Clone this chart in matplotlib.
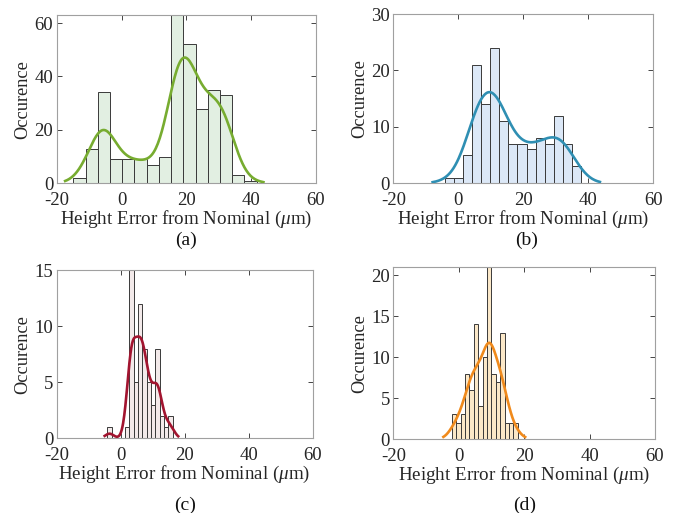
import numpy as np
import matplotlib
matplotlib.use("Agg")
import matplotlib.pyplot as plt

plt.rcParams['font.family'] = ['Liberation Serif', 'DejaVu Serif']
plt.rcParams['mathtext.fontset'] = 'custom'
plt.rcParams['mathtext.it'] = 'Liberation Serif:italic'
plt.rcParams['mathtext.rm'] = 'Liberation Serif'
plt.rcParams['axes.unicode_minus'] = False

# ---- data ----
panel_labels = ["(a)", "(b)", "(c)", "(d)"]
xticks = [-20, 0, 20, 40, 60]

a_start, a_width = -14.86, 3.77
a_counts = [2, 13, 34, 9, 9, 9, 7, 10, 63, 52, 28, 35, 33, 3, 1]

b_start, b_width = -4.2, 2.8
b_counts = [1, 1, 5, 21, 14, 24, 11, 7, 7, 6, 8, 7, 12, 7, 3]

c_start, c_width = -4.17, 1.365
c_counts = [1, 0, 0, 0, 1, 15, 5, 12, 8, 5, 3, 8, 2, 1, 2]

d_start, d_width = -2.15, 1.346
d_counts = [3, 2, 3, 8, 6, 14, 4, 10, 21, 8, 7, 13, 2, 2, 2]

yticks = [[0, 20, 40, 60], [0, 10, 20, 30], [0, 5, 10, 15], [0, 5, 10, 15, 20]]
ylims = [63, 30, 15, 21]
curve_ranges = [(-17.4, 43.8), (-7.9, 43.6), (-5.0, 18.0), (-4.7, 20.3)]
bw_factor = [0.9, 0.95, 0.72, 0.92]

fills = ["#e2efe2", "#dce8f7", "#f3eaea", "#fbe8c8"]
lines = ["#77ac30", "#2f8fb3", "#a2142f", "#f08a1c"]

positions = [
    [0.084, 0.6427, 0.384, 0.328],
    [0.5827, 0.6427, 0.385, 0.330],
    [0.084, 0.1456, 0.379, 0.328],
    [0.5827, 0.1442, 0.3877, 0.335],
]
label_xy = [(186, 240), (527, 240), (185, 505), (525, 505)]

fig = plt.figure(figsize=(6.75, 5.13), dpi=100)

starts = [a_start, b_start, c_start, d_start]
widths = [a_width, b_width, c_width, d_width]
counts = [a_counts, b_counts, c_counts, d_counts]

for i in range(4):
    ax = fig.add_axes(positions[i])
    cnt = np.array(counts[i], dtype=float)
    edges = starts[i] + widths[i] * np.arange(len(cnt) + 1)
    centers = 0.5 * (edges[:-1] + edges[1:])
    mask = cnt > 0
    ax.bar(centers[mask], cnt[mask], width=widths[i], color=fills[i],
           edgecolor="#3a3a3a", linewidth=0.7, align="center", zorder=2)
    # kernel density fit (histfit-like) from the binned data,
    # each bin's samples spread evenly over the bin
    pts = []
    for e0, c in zip(edges[:-1], cnt.astype(int)):
        if c > 0:
            pts.append(e0 + (np.arange(c) + 0.5) / c * widths[i])
    data = np.concatenate(pts)
    n = len(data)
    med = np.median(data)
    sig = np.median(np.abs(data - med)) / 0.6745
    bw = sig * (4.0 / (3.0 * n)) ** 0.2 * bw_factor[i]
    xs = np.linspace(curve_ranges[i][0], curve_ranges[i][1], 200)
    dens = np.exp(-0.5 * ((xs[:, None] - data[None, :]) / bw) ** 2).sum(axis=1)
    dens = dens / (n * bw * np.sqrt(2 * np.pi))
    ax.plot(xs, dens * n * widths[i], color=lines[i], linewidth=1.9, zorder=3)

    ax.set_xlim(-20, 60)
    ax.set_ylim(0, ylims[i])
    ax.set_xticks(xticks)
    ax.set_yticks(yticks[i])
    ax.tick_params(direction="in", top=True, right=True, length=3.5, width=0.6,
                   colors="#262626", labelsize=13.5, pad=2.5)
    ax.tick_params(axis="x", pad=6.5)
    for s in ax.spines.values():
        s.set_color("#a0a0a0")
        s.set_linewidth(0.8)
    ax.set_xlabel(r"Height Error from Nominal ($\mu$m)", fontsize=13.7,
                  color="#262626", labelpad=0)
    ax.set_ylabel("Occurence", fontsize=13.2, color="#262626", labelpad=2)
    fig.text(label_xy[i][0] / 675, 1 - label_xy[i][1] / 513, panel_labels[i],
             ha="center", va="center", fontsize=14, color="#111111")

fig.savefig("out.png", dpi=100)
